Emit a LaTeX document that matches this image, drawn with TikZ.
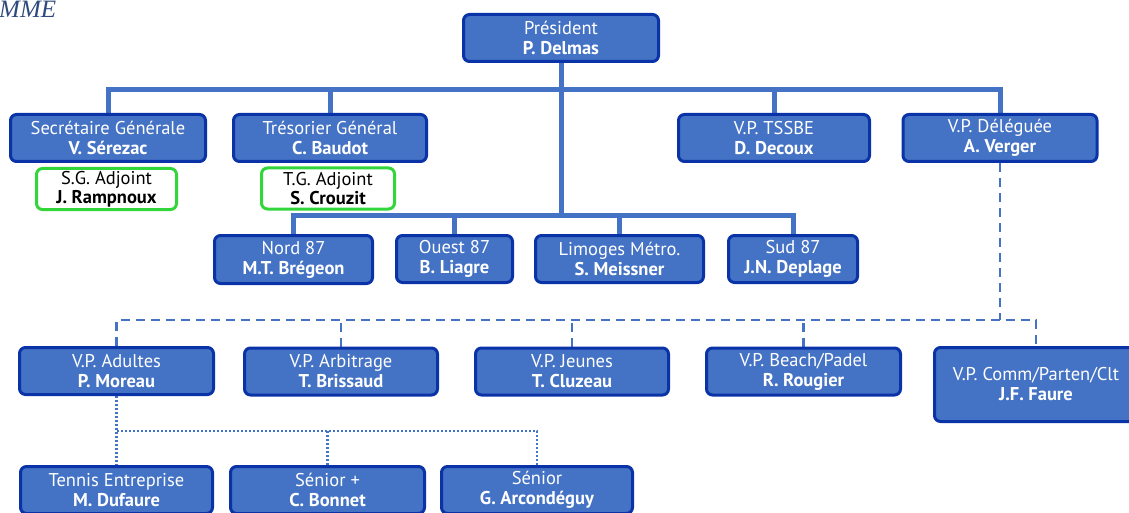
\documentclass[tikz,border=0pt]{standalone}
\usepackage{fontspec}
\setmainfont{PT Sans}
\newfontfamily\titlefont{Liberation Serif}
\usetikzlibrary{backgrounds}
\definecolor{boxfill}{HTML}{4472C4}
\definecolor{boxedge}{HTML}{0A33A8}
\definecolor{linecol}{HTML}{4472C4}
\definecolor{adjedge}{HTML}{33D63A}
\definecolor{titlecol}{HTML}{2E4A7E}
\begin{document}
\begin{tikzpicture}[x=1pt,y=-1pt,
  bbox/.style={draw=boxedge, fill=boxfill, line width=3pt, rounded corners=6pt, text=white, align=center, inner sep=0pt, font=\fontsize{18.5}{20}\selectfont, minimum height=47pt},
  abox/.style={draw=adjedge, fill=white, line width=3pt, rounded corners=6pt, text=black, align=center, inner sep=0pt, font=\fontsize{18.5}{19}\selectfont, minimum height=41pt},
  solidline/.style={draw=linecol, line width=5pt},
  dashline/.style={draw=linecol, line width=2.6pt, dash pattern=on 9pt off 6pt},
  dotline/.style={draw=linecol, line width=2.4pt, dash pattern=on 2pt off 2pt}]
\useasboundingbox (0,0) rectangle (1129,513);
\clip (0,0) rectangle (1129,513);
\node[anchor=base west, inner sep=0pt, text=titlecol, font=\titlefont\itshape\fontsize{25}{25}\selectfont] (title) at (-1,17.5) {MME};
% level 0
\node[bbox, minimum width=195pt] (pres) at (561,38) {Président\\\textbf{P. Delmas}};
% level 1
\node[bbox, minimum width=195pt] (sg) at (108,138) {Secrétaire Générale\\\textbf{V. Sérezac}};
\node[bbox, minimum width=193pt] (tg) at (330,138) {Trésorier Général\\\textbf{C. Baudot}};
\node[bbox, minimum width=191pt] (tssbe) at (774,138) {V.P. TSSBE\\\textbf{D. Decoux}};
\node[bbox, minimum width=194pt] (vpd) at (1000,138) {V.P. Déléguée\\\textbf{A. Verger}};
% adjoints
\node[abox, minimum width=140pt] (sga) at (106.5,189) {S.G. Adjoint\\\textbf{J. Rampnoux}};
\node[abox, minimum width=133pt] (tga) at (328,188.5) {T.G. Adjoint\\\textbf{S. Crouzit}};
% regions
\node[bbox, minimum width=158pt, minimum height=48pt] (nord) at (293.5,259.5) {Nord 87\\\textbf{M.T. Brégeon}};
\node[bbox, minimum width=116pt] (ouest) at (454.5,259) {Ouest 87\\\textbf{B. Liagre}};
\node[bbox, minimum width=168pt] (lim) at (619.5,259) {Limoges Métro.\\\textbf{S. Meissner}};
\node[bbox, minimum width=129pt] (sud) at (793,259) {Sud 87\\\textbf{J.N. Deplage}};
% VPs
\node[bbox, minimum width=194pt] (adu) at (116.5,371) {V.P. Adultes\\\textbf{P. Moreau}};
\node[bbox, minimum width=193pt] (arb) at (341,371.5) {V.P. Arbitrage\\\textbf{T. Brissaud}};
\node[bbox, minimum width=193pt] (jeu) at (572,371.5) {V.P. Jeunes\\\textbf{T. Cluzeau}};
\node[bbox, minimum width=194pt] (bea) at (803.5,371.5) {V.P. Beach/Padel\\\textbf{R. Rougier}};
\node[bbox, minimum width=203pt, minimum height=74pt] (com) at (1036,384.5) {V.P. Comm/Parten/Clt\\\textbf{J.F. Faure}};
% sections
\node[bbox, minimum width=192pt] (ten) at (116.5,490) {Tennis Entreprise\\\textbf{M. Dufaure}};
\node[bbox, minimum width=194pt] (sp) at (327.5,490) {Sénior +\\\textbf{C. Bonnet}};
\node[bbox, minimum width=191pt] (sen) at (537,490) {Sénior\\\textbf{G. Arcondéguy}};
% bars
\coordinate (bar1) at (560,90);
\coordinate (regbar) at (560,215);
\coordinate (dbar) at (1000,320);
\coordinate (tbar) at (117,431);
\begin{scope}[on background layer]
\draw[solidline] (sg.north) -- (sg.north|-bar1) -- (vpd.north|-bar1) -- (vpd.north);
\draw[solidline] (tg.north) -- (tg.north|-bar1);
\draw[solidline] (tssbe.north) -- (tssbe.north|-bar1);
\draw[solidline] (pres.south) -- (pres.south|-regbar);
\draw[solidline] (nord.north) -- (nord.north|-regbar) -- (sud.north|-regbar) -- (sud.north);
\draw[solidline] (ouest.north) -- (ouest.north|-regbar);
\draw[solidline] (lim.north) -- (lim.north|-regbar);
\draw[dashline] (vpd.south) -- (vpd.south|-dbar);
\draw[dashline] (adu.north) -- (adu.north|-dbar) -- (com.north|-dbar) -- (com.north);
\draw[dashline] (arb.north) -- (arb.north|-dbar);
\draw[dashline] (jeu.north) -- (jeu.north|-dbar);
\draw[dashline] (bea.north) -- (bea.north|-dbar);
\draw[dotline] (adu.south) -- (adu.south|-ten.north);
\draw[dotline] (adu.south|-tbar) -- (sen.north|-tbar) -- (sen.north);
\draw[dotline] (sp.north) -- (sp.north|-tbar);
\end{scope}
\end{tikzpicture}
\end{document}
